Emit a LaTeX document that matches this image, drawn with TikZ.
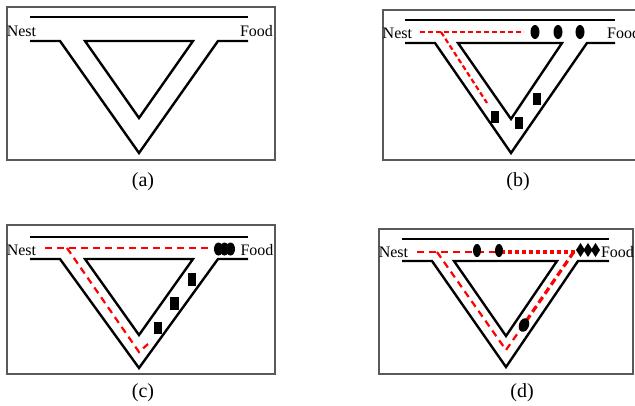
\documentclass[tikz,border=0pt]{standalone}
\usepackage{fontspec}
\setmainfont{Liberation Serif}
\begin{document}
\begin{tikzpicture}[x=1pt,y=-1pt,
  frame/.style={draw=black!65, line width=1.3pt},
  track/.style={draw=black, line width=2.4pt, line join=miter},
  trail/.style={draw=red, line width=2.2pt, dash pattern=on 5pt off 3pt},
  trailc/.style={draw=red, line width=2.2pt, dash pattern=on 7pt off 5pt},
  trailthick/.style={draw=red, line width=4.2pt, dash pattern=on 4pt off 3pt},
  traildiag/.style={draw=red, line width=3.2pt, dash pattern=on 7pt off 4pt},
  lbl/.style={inner sep=0pt, font=\fontsize{16}{16}\selectfont},
  captxt/.style={inner sep=0pt, font=\fontsize{20}{20}\selectfont}]
\clip (0,0) rectangle (635,405);
\fill[white] (0,0) rectangle (635,405);

% ---------- (a)
\draw[frame] (7,7) rectangle (275,160);
\draw[track] (30,17) -- (248,17);
\draw[track] (30,41) -- (60,41) -- (139,153) -- (218,41) -- (248,41);
\draw[track] (85,41) -- (193,41) -- (139,118) -- cycle;
\node[lbl] (nestA) at (21.5,31) {Nest};
\node[lbl] (foodA) at (256.5,31) {Food};
\node[captxt] (capA) at (143,182) {(a)};

% ---------- (b)
\draw[frame] (383,10) rectangle (645,160);
\draw[track] (405,20) -- (615,20);
\draw[track] (405,43) -- (435,43) -- (511,153) -- (587,43) -- (615,43);
\draw[track] (458,43) -- (562,43) -- (511,119) -- cycle;
\draw[trail] (420,32) -- (524,32);
\draw[trail] (441,32) -- (487,103);
\foreach \x in {535,558,580} \fill (\x,32) ellipse [x radius=4.5pt, y radius=7pt];
\fill (490.5,110.5) rectangle (498.5,123);
\fill (515,117) rectangle (523,129);
\fill (533,93) rectangle (541,105);
\node[lbl, anchor=west] (nestB) at (382.5,33) {Nest};
\node[lbl, anchor=west] (foodB) at (607,33) {Food};
\node[captxt] (capB) at (518,182) {(b)};

% ---------- (c)
\draw[frame] (7,225) rectangle (275,374);
\draw[track] (30,237) -- (248,237);
\draw[track] (30,259) -- (60,259) -- (139,368) -- (218,259) -- (248,259);
\draw[track] (85,259) -- (193,259) -- (139,335) -- cycle;
\draw[trailc] (45,248) -- (210,248);
\draw[trailc] (67,248) -- (139,352) -- (148,344);
\foreach \x in {218.5,224.5,230.5} \fill (\x,249) ellipse [x radius=4.5pt, y radius=6.5pt];
\fill (188,273) rectangle (196,286);
\fill (170,297) rectangle (179,310);
\fill (154,322) rectangle (162,334);
\node[lbl] (nestC) at (21.5,250) {Nest};
\node[lbl] (foodC) at (257,250) {Food};
\node[captxt] (capC) at (143,393) {(c)};

% ---------- (d)
\draw[frame] (379,229) rectangle (633,374);
\draw[track] (402,239) -- (609,239);
\draw[track] (402,261) -- (432,261) -- (506,367) -- (578,261) -- (609,261);
\draw[track] (454,261) -- (557,261) -- (506,336) -- cycle;
\draw[trailc] (417,252) -- (499,252);
\draw[trailthick] (501,252) -- (577,252);
\draw[trailc] (437,252) -- (506,350) -- (520,330);
\draw[traildiag] (520,330) -- (573,253);
\fill (477,250.5) ellipse [x radius=4pt, y radius=6.5pt];
\fill (499,250.5) ellipse [x radius=4pt, y radius=6.5pt];
\fill[rotate around={-20:(524,325)}] (524,325) ellipse [x radius=5pt, y radius=7pt];
\foreach \x in {580.5,588,595.5} \fill (\x,243) -- (\x+4.5,250) -- (\x,257) -- (\x-4.5,250) -- cycle;
\node[lbl] (nestD) at (393.5,252) {Nest};
\node[lbl] (foodD) at (617.5,252) {Food};
\node[captxt] (capD) at (522,393) {(d)};
\end{tikzpicture}
\end{document}
